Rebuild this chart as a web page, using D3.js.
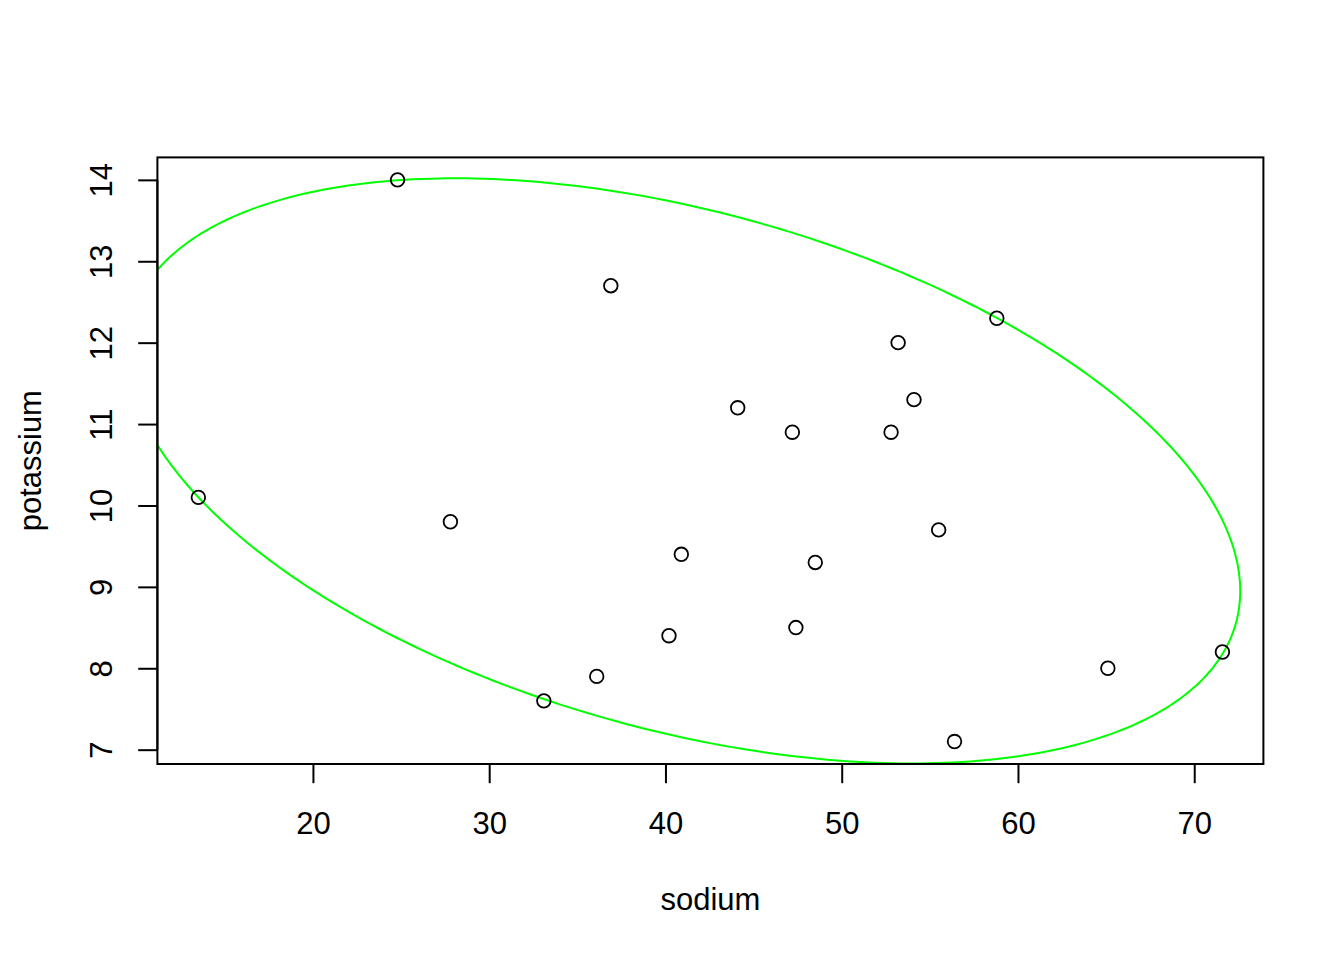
<!DOCTYPE html>
<html>
<head>
<meta charset="utf-8">
<script src="https://cdn.jsdelivr.net/npm/d3@7"></script>
<style>
  body { margin: 0; background: #fff; }
  svg text { font-family: "Liberation Sans", Arial, Helvetica, sans-serif; fill: #000; }
</style>
</head>
<body>
<svg id="chart" width="1344" height="960"></svg>
<script>
// data
var sodium    = [24.8, 13.5, 27.8, 33.1, 36.1, 36.9, 40.2, 40.9, 44.1, 47.2,
                 47.4, 48.5, 52.8, 53.2, 54.1, 55.5, 56.4, 58.8, 65.1, 71.6];
var potassium = [14.0, 10.1, 9.8, 7.6, 7.9, 12.7, 8.4, 9.4, 11.2, 10.9,
                 8.5, 9.3, 10.9, 12.0, 11.3, 9.7, 7.1, 12.3, 8.0, 8.2];
var xTicks = [20, 30, 40, 50, 60, 70];
var yTicks = [7, 8, 9, 10, 11, 12, 13, 14];

// ellipse: centre and shape matrix (x,y)
var ellipseCenter = [41.02, 10.425];
var ellipseShape = [[997.9, -46.6], [-46.6, 12.92]];

var svg = d3.select("#chart");
var pLeft = 157.4, pRight = 1263.4, pTop = 157.4, pBottom = 764;
var tick = 19.2;

// R style axis range: data range plus 4% each side
function pad(v) {
    var e = d3.extent(v), r = e[1] - e[0];
    return [e[0] - 0.04 * r, e[1] + 0.04 * r];
}

var x = d3.scaleLinear().domain(pad(sodium)).range([pLeft, pRight]);
var y = d3.scaleLinear().domain(pad(potassium)).range([pBottom, pTop]);

svg.append("clipPath").attr("id", "plotclip")
    .append("rect")
    .attr("x", pLeft).attr("y", pTop)
    .attr("width", pRight - pLeft).attr("height", pBottom - pTop);

// ellipse
var sx = Math.sqrt(ellipseShape[0][0]);
var bxy = ellipseShape[0][1] / sx;
var by = Math.sqrt(ellipseShape[1][1] - bxy * bxy);
var ell = d3.range(0, 361, 1).map(function(a) {
    var t = a * Math.PI / 180;
    return [ellipseCenter[0] + sx * Math.cos(t),
            ellipseCenter[1] + bxy * Math.cos(t) + by * Math.sin(t)];
});
svg.append("path")
    .datum(ell)
    .attr("clip-path", "url(#plotclip)")
    .attr("fill", "none")
    .attr("stroke", "#00ff00")
    .attr("stroke-width", 2)
    .attr("d", d3.line().x(function(d) { return x(d[0]); }).y(function(d) { return y(d[1]); }));

// points
svg.append("g").selectAll("circle")
    .data(d3.range(sodium.length))
    .enter().append("circle")
    .attr("cx", function(i) { return x(sodium[i]); })
    .attr("cy", function(i) { return y(potassium[i]); })
    .attr("r", 6.8)
    .attr("fill", "none")
    .attr("stroke", "#000")
    .attr("stroke-width", 1.8);

// box
svg.append("rect")
    .attr("x", pLeft).attr("y", pTop)
    .attr("width", pRight - pLeft).attr("height", pBottom - pTop)
    .attr("fill", "none").attr("stroke", "#000").attr("stroke-width", 2);

// x axis
var xAxis = d3.axisBottom(x).tickValues(xTicks).tickSize(tick).tickSizeOuter(0);
var gx = svg.append("g").attr("transform", "translate(0," + pBottom + ")").call(xAxis);
gx.select(".domain")
    .attr("d", "M" + x(xTicks[0]) + ",0H" + x(xTicks[xTicks.length - 1]))
    .attr("stroke-width", 2);
gx.selectAll(".tick line").attr("stroke-width", 2);
gx.selectAll(".tick text").style("font-size", "31px").attr("y", null).attr("dy", null)
    .attr("transform", "translate(0,70)");

// y axis
var yAxis = d3.axisLeft(y).tickValues(yTicks).tickSize(tick).tickSizeOuter(0);
var gy = svg.append("g").attr("transform", "translate(" + pLeft + ",0)").call(yAxis);
gy.select(".domain")
    .attr("d", "M0," + y(yTicks[0]) + "V" + y(yTicks[yTicks.length - 1]))
    .attr("stroke-width", 2);
gy.selectAll(".tick line").attr("stroke-width", 2);
gy.selectAll(".tick text")
    .style("font-size", "31px")
    .attr("x", null).attr("dy", null)
    .attr("text-anchor", "middle")
    .attr("transform", "translate(-45,0) rotate(-90)");

// axis titles
svg.append("text")
    .attr("x", (pLeft + pRight) / 2)
    .attr("y", 910)
    .attr("text-anchor", "middle")
    .style("font-size", "31px")
    .text("sodium");

svg.append("text")
    .attr("transform", "translate(41," + (pTop + pBottom) / 2 + ") rotate(-90)")
    .attr("text-anchor", "middle")
    .style("font-size", "31px")
    .text("potassium");
</script>
</body>
</html>
